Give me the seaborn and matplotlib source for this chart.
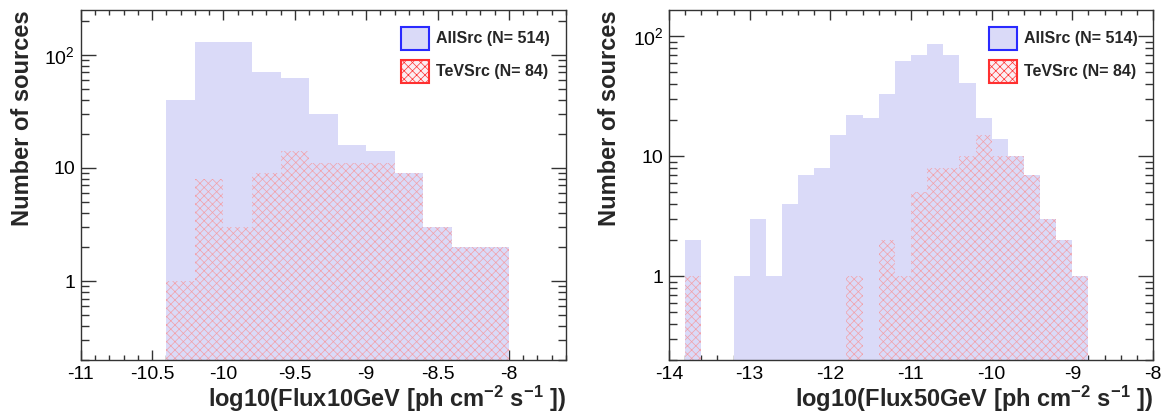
import numpy as np
import pandas as pd
import matplotlib
matplotlib.use("Agg")
import matplotlib.pyplot as plt
import seaborn as sns
from matplotlib.patches import Patch
from matplotlib.ticker import MultipleLocator, LogLocator, FuncFormatter, NullFormatter

# ---------------- data ----------------
# Left panel: log10(Flux10GeV), bins of 0.2 from -10.4 to -8.0
edges_10 = [-10.4, -10.2, -10.0, -9.8, -9.6, -9.4, -9.2, -9.0, -8.8, -8.6, -8.4, -8.2, -8.0]
all_10 = [40, 129, 129, 70, 63, 30, 16, 14, 9, 3, 2, 2]
tev_10 = [1, 8, 3, 9, 14, 11, 11, 11, 9, 3, 2, 2]

# Right panel: log10(Flux50GeV), bins of 0.2 from -13.8 to -8.8
edges_50 = [-13.8, -13.6, -13.4, -13.2, -13.0, -12.8, -12.6, -12.4, -12.2, -12.0,
            -11.8, -11.6, -11.4, -11.2, -11.0, -10.8, -10.6, -10.4, -10.2, -10.0,
            -9.8, -9.6, -9.4, -9.2, -9.0, -8.8]
all_50 = [2, 0, 0, 1, 3, 1, 4, 7, 8, 15, 22, 21, 33, 62, 70, 87, 70, 41, 21, 14, 10, 7, 3, 2, 1]
tev_50 = [1, 0, 0, 0, 0, 0, 0, 0, 0, 0, 1, 0, 2, 1, 5, 8, 8, 10, 15, 10, 10, 7, 3, 2, 1]

labels = ["AllSrc (N= 514)", "TeVSrc (N= 84)"]
xlabels = [r"log10(Flux10GeV [ph cm$^{-2}$ s$^{-1}$ ])",
           r"log10(Flux50GeV [ph cm$^{-2}$ s$^{-1}$ ])"]
ylabel = "Number of sources"

# ---------------- style ----------------
sns.set_theme(style="white")
plt.rcParams["font.family"] = ["Liberation Sans", "DejaVu Sans"]
plt.rcParams["mathtext.fontset"] = "custom"
plt.rcParams["mathtext.rm"] = "Liberation Sans"
plt.rcParams["mathtext.bf"] = "Liberation Sans:bold"
plt.rcParams["mathtext.default"] = "regular"
plt.rcParams["axes.unicode_minus"] = False
plt.rcParams["hatch.linewidth"] = 0.5

BLUE_FILL = "#dadaf8"
RED_HATCH = "#f2a0a8"
FRAME = "#333333"

W, H = 1166, 418
fig = plt.figure(figsize=(W / 100, H / 100), dpi=100)
ax1 = fig.add_axes([80.7 / W, 58 / H, 485.3 / W, 350 / H])
ax2 = fig.add_axes([669 / W, 58 / H, 484 / W, 350 / H])


def yfmt(v, pos):
    if abs(v - 1) < 1e-9:
        return "1"
    if abs(v - 10) < 1e-9:
        return "10"
    if abs(v - 100) < 1e-9:
        return r"10$^2$"
    return ""


def draw(ax, edges, all_c, tev_c, xlim, ylim, major, minor, xlabel, ylab_x, leg_x):
    e = np.asarray(edges, dtype=float)
    centers = (e[:-1] + e[1:]) / 2
    df_all = pd.DataFrame({"x": centers, "n": all_c})
    df_tev = pd.DataFrame({"x": centers, "n": tev_c})
    sns.histplot(data=df_all, x="x", weights="n", bins=list(edges), ax=ax,
                 element="bars", fill=True, color=BLUE_FILL, alpha=1,
                 linewidth=0, edgecolor=BLUE_FILL)
    sns.histplot(data=df_tev, x="x", weights="n", bins=list(edges), ax=ax,
                 element="bars", fill=True, facecolor="none",
                 edgecolor=RED_HATCH, hatch="xxxx", linewidth=0, alpha=1)
    ax.set_yscale("log")
    ax.set_xlim(*xlim)
    ax.set_ylim(*ylim)

    ax.xaxis.set_major_locator(MultipleLocator(major))
    ax.xaxis.set_minor_locator(MultipleLocator(minor))
    ax.xaxis.set_major_formatter(FuncFormatter(lambda v, p: f"{v:g}"))
    ax.yaxis.set_major_locator(LogLocator(base=10))
    ax.yaxis.set_minor_locator(LogLocator(base=10, subs=np.arange(2, 10)))
    ax.yaxis.set_major_formatter(FuncFormatter(yfmt))
    ax.yaxis.set_minor_formatter(NullFormatter())

    ax.tick_params(which="both", direction="in", top=True, right=True,
                   bottom=True, left=True,
                   color=FRAME, width=1, labelsize=14, labelcolor="black")
    ax.tick_params(axis="y", which="major", length=11, pad=4)
    ax.tick_params(axis="y", which="minor", length=5.5)
    ax.tick_params(axis="x", which="major", length=7, pad=4)
    ax.tick_params(axis="x", which="minor", length=3.5)
    for s in ax.spines.values():
        s.set_color(FRAME)
        s.set_linewidth(1)
        s.set_visible(True)

    ax.set_xlabel(xlabel, fontsize=17, fontweight="bold", loc="right")
    ax.xaxis.set_label_coords(1.0, -0.068)
    ax.set_ylabel(ylabel, fontsize=17, fontweight="bold", loc="top")
    ax.yaxis.set_label_coords(ylab_x, 1.0)

    handles = [Patch(facecolor=BLUE_FILL, edgecolor="#2a2aff", linewidth=1.5),
               Patch(facecolor="#fbeef2", edgecolor="#ff3030", linewidth=1.5,
                     hatch="xxxx")]
    ax.legend(handles, labels, loc="upper left", bbox_to_anchor=(leg_x, 0.952),
              frameon=False, prop={"weight": "bold", "size": 11.5},
              handlelength=1.75, handleheight=1.85, handletextpad=0.45,
              labelspacing=0.6, borderpad=0, borderaxespad=0)


draw(ax1, edges_10, all_10, tev_10, (-11, -7.6), (0.2, 250), 0.5, 0.1,
     xlabels[0], -0.096, 0.66)
draw(ax2, edges_50, all_50, tev_50, (-14, -8), (0.2, 166), 1.0, 0.2,
     xlabels[1], -0.099, 0.661)

fig.savefig("out.png", dpi=100)
